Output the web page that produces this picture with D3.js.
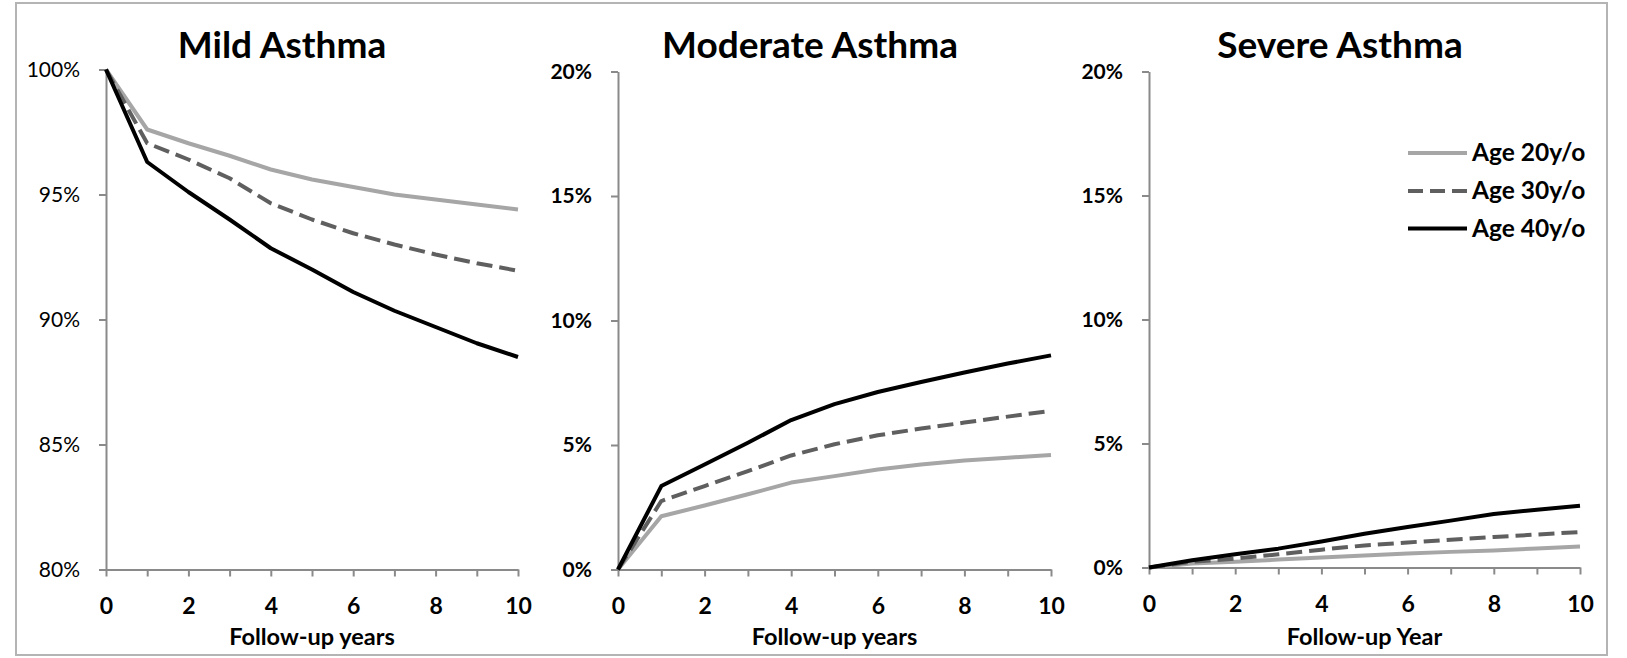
<!DOCTYPE html>
<html>
<head>
<meta charset="utf-8">
<script src="https://cdn.jsdelivr.net/npm/d3@7"></script>
<style>
  html, body { margin: 0; padding: 0; background: #fff; }
  svg { display: block; }
  text { font-family: "Lato", "Carlito", "Noto Sans", sans-serif; fill: #000; }
</style>
</head>
<body>
<svg id="chart" width="1627" height="658"></svg>
<script>
// ---------------- data ----------------
const years = [0, 1, 2, 3, 4, 5, 6, 7, 8, 9, 10];
const seriesNames = ["Age 20y/o", "Age 30y/o", "Age 40y/o"];
const panelTitles = ["Mild Asthma", "Moderate Asthma", "Severe Asthma"];
const xAxisTitles = ["Follow-up years", "Follow-up years", "Follow-up Year"];
const xTickLabels = [0, 2, 4, 6, 8, 10];
const mildYTicks = [80, 85, 90, 95, 100];
const otherYTicks = [0, 5, 10, 15, 20];

// Mild asthma (%)
const mildAge20 = [100, 97.6, 97.05, 96.55, 96.0, 95.6, 95.3, 95.0, 94.8, 94.6, 94.4];
const mildAge30 = [100, 97.05, 96.4, 95.65, 94.65, 94.0, 93.45, 93.0, 92.6, 92.25, 91.95];
const mildAge40 = [100, 96.3, 95.1, 94.0, 92.85, 92.0, 91.1, 90.35, 89.7, 89.05, 88.5];
// Moderate asthma (%)
const moderateAge20 = [0, 2.14, 2.57, 3.02, 3.49, 3.75, 4.02, 4.22, 4.38, 4.49, 4.6];
const moderateAge30 = [0, 2.75, 3.35, 3.95, 4.58, 5.03, 5.39, 5.66, 5.9, 6.14, 6.37];
const moderateAge40 = [0, 3.35, 4.22, 5.09, 6.0, 6.64, 7.13, 7.53, 7.91, 8.27, 8.6];
// Severe asthma (%)
const severeAge20 = [0, 0.16, 0.23, 0.32, 0.40, 0.48, 0.56, 0.63, 0.69, 0.77, 0.85];
const severeAge30 = [0, 0.23, 0.36, 0.53, 0.72, 0.89, 1.01, 1.12, 1.23, 1.33, 1.43];
const severeAge40 = [0, 0.29, 0.53, 0.76, 1.05, 1.36, 1.63, 1.89, 2.16, 2.33, 2.49];

// ---------------- styles / layout ----------------
const styles = [
  { color: "#a6a6a6", dash: null },
  { color: "#5f5f5f", dash: "16,7" },
  { color: "#000000", dash: null }
];
const panels = [
  { title: panelTitles[0], xTitle: xAxisTitles[0], ticks: mildYTicks, domain: [80, 100],
    series: [mildAge20, mildAge30, mildAge40], x0: 106, x1: 518, yTop: 69.5, yBot: 569.5,
    yLabelWeight: "normal", titleX: 282 },
  { title: panelTitles[1], xTitle: xAxisTitles[1], ticks: otherYTicks, domain: [0, 20],
    series: [moderateAge20, moderateAge30, moderateAge40], x0: 618, x1: 1051, yTop: 71.5, yBot: 569.5,
    yLabelWeight: "bold", titleX: 810 },
  { title: panelTitles[2], xTitle: xAxisTitles[2], ticks: otherYTicks, domain: [0, 20],
    series: [severeAge20, severeAge30, severeAge40], x0: 1149, x1: 1580, yTop: 71.5, yBot: 567.5,
    yLabelWeight: "bold", titleX: 1340 }
];

const svg = d3.select("#chart");
svg.append("rect").attr("x", 0).attr("y", 0).attr("width", 1627).attr("height", 658).attr("fill", "#fff");
// outer frame
svg.append("rect").attr("x", 16).attr("y", 3).attr("width", 1591).attr("height", 652)
  .attr("fill", "none").attr("stroke", "#b4b4b4").attr("stroke-width", 2);

const axisColor = "#8a8a8a";

panels.forEach(p => {
  const g = svg.append("g");
  const x = d3.scaleLinear().domain([0, 10]).range([p.x0, p.x1]);
  const y = d3.scaleLinear().domain(p.domain).range([p.yBot, p.yTop]);

  // y axis
  const yAxis = g.append("g").attr("transform", `translate(${p.x0},0)`)
    .call(d3.axisLeft(y).tickValues(p.ticks).tickSize(7).tickSizeOuter(0).tickPadding(19)
      .tickFormat(d => d + "%"));
  // x axis
  const xAxis = g.append("g").attr("transform", `translate(0,${p.yBot})`)
    .call(d3.axisBottom(x).tickValues(years).tickSize(7).tickSizeOuter(0).tickPadding(21)
      .tickFormat(d => xTickLabels.includes(d) ? d : ""));

  [yAxis, xAxis].forEach(a => {
    a.select(".domain").attr("stroke", axisColor).attr("stroke-width", 2);
    a.selectAll(".tick line").attr("stroke", axisColor).attr("stroke-width", 2);
  });
  yAxis.selectAll(".tick text").attr("font-size", 21).attr("font-weight", p.yLabelWeight)
    .attr("fill", "#000");
  xAxis.selectAll(".tick text").attr("font-size", 23).attr("font-weight", "bold").attr("fill", "#000");

  // lines
  const line = d3.line().x((d, i) => x(years[i])).y(d => y(d));
  p.series.forEach((s, i) => {
    g.append("path").datum(s).attr("d", line)
      .attr("fill", "none").attr("stroke", styles[i].color).attr("stroke-width", 4)
      .attr("stroke-linejoin", "round")
      .attr("stroke-dasharray", styles[i].dash);
  });

  // title
  g.append("text").attr("x", p.titleX).attr("y", 58).attr("text-anchor", "middle")
    .attr("font-size", 37).attr("font-weight", "bold").text(p.title);
  // x axis title
  g.append("text").attr("x", (p.x0 + p.x1) / 2).attr("y", 645).attr("text-anchor", "middle")
    .attr("font-size", 23.5).attr("font-weight", "bold").text(p.xTitle);
});

// legend
const legendRows = [153, 191, 228.5];
const legend = svg.append("g");
seriesNames.forEach((name, i) => {
  legend.append("line").attr("x1", 1408).attr("x2", 1467)
    .attr("y1", legendRows[i]).attr("y2", legendRows[i])
    .attr("stroke", styles[i].color).attr("stroke-width", 4)
    .attr("stroke-dasharray", styles[i].dash ? "15,7" : null);
  legend.append("text").attr("x", 1472).attr("y", legendRows[i] + 8)
    .attr("font-size", 24.5).attr("font-weight", "bold").text(name);
});
</script>
</body>
</html>
